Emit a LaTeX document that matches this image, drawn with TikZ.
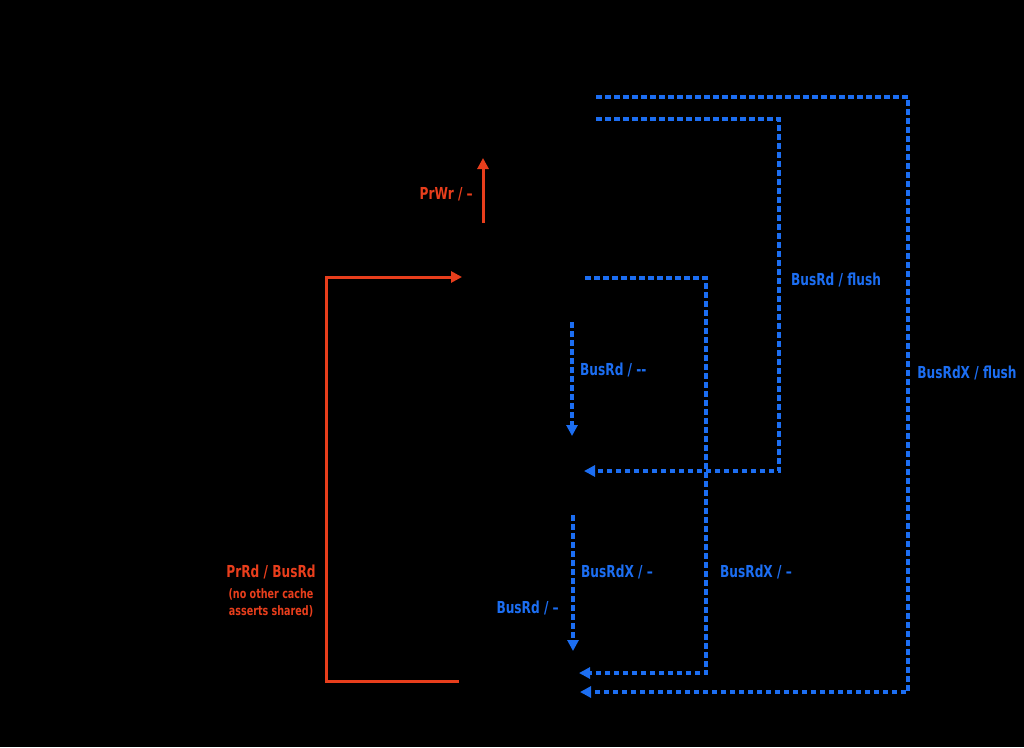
\documentclass[tikz,border=0pt]{standalone}
\usepackage{fontspec}
\setmainfont[FakeStretch=0.82]{DejaVu Sans Condensed}
\usetikzlibrary{arrows.meta}
\definecolor{cred}{RGB}{232,62,28}
\definecolor{cblue}{RGB}{28,110,242}
\tikzset{
  redline/.style={draw=cred,line width=3pt,-{Triangle[length=11pt,width=11pt]}},
  blueline/.style={draw=cblue,line width=3.2pt,dash pattern=on 5.5pt off 3.5pt,-{Triangle[length=11pt,width=11pt]}},
  rlab/.style={text=cred,font=\bfseries\fontsize{16.5}{18}\selectfont,inner sep=0pt},
  rsmall/.style={text=cred,font=\bfseries\fontsize{13}{17}\selectfont,inner sep=0pt,align=center},
  blab/.style={text=cblue,font=\bfseries\fontsize{16.5}{18}\selectfont,inner sep=0pt},
}
\begin{document}
\begin{tikzpicture}[x=1pt,y=-1pt]
\fill[black] (0,0) rectangle (1024,747);
\useasboundingbox (0,0) rectangle (1024,747);
% red connectors
\coordinate (wrS) at (483,223);
\coordinate (wrE) at (483,158);
\draw[redline] (wrS) -- (wrE);
\node[rlab,anchor=east] (wrL) at (473,194) {PrWr / –};
\coordinate (rdS) at (459,681);
\coordinate (rdE) at (462,277);
\draw[redline] (rdS) -- (326,681) |- (rdE);
\node[rlab] (rdL) at (271,572) {PrRd / BusRd};
\node[rsmall] (rdN) at (271,603) {(no other cache\\asserts shared)};
% blue connectors
\coordinate (xfS) at (596,97);
\coordinate (xfE) at (580,692);
\draw[blueline] (xfS) -- (908,97) |- (xfE);
\node[blab] (xfL) at (967,373) {BusRdX / flush};
\coordinate (rfS) at (596,119);
\coordinate (rfE) at (584,471);
\draw[blueline] (rfS) -- (779,119) |- (rfE);
\node[blab] (rfL) at (836,280) {BusRd / flush};
\coordinate (xmS) at (585,278);
\coordinate (xmE) at (579,673);
\draw[blueline] (xmS) -- (706,278) |- (xmE);
\node[blab] (xmL) at (756,572) {BusRdX / –};
\coordinate (v1S) at (572,322);
\coordinate (v1E) at (572,436);
\draw[blueline] (v1S) -- (v1E);
\node[blab,anchor=west] (v1L) at (580,370) {BusRd / {-}{-}};
\coordinate (v2S) at (573,515);
\coordinate (v2E) at (573,651);
\draw[blueline] (v2S) -- (v2E);
\node[blab,anchor=west] (v2L) at (581,572) {BusRdX / –};
\node[blab,anchor=east] (v2M) at (559,608) {BusRd / –};
\end{tikzpicture}
\end{document}
